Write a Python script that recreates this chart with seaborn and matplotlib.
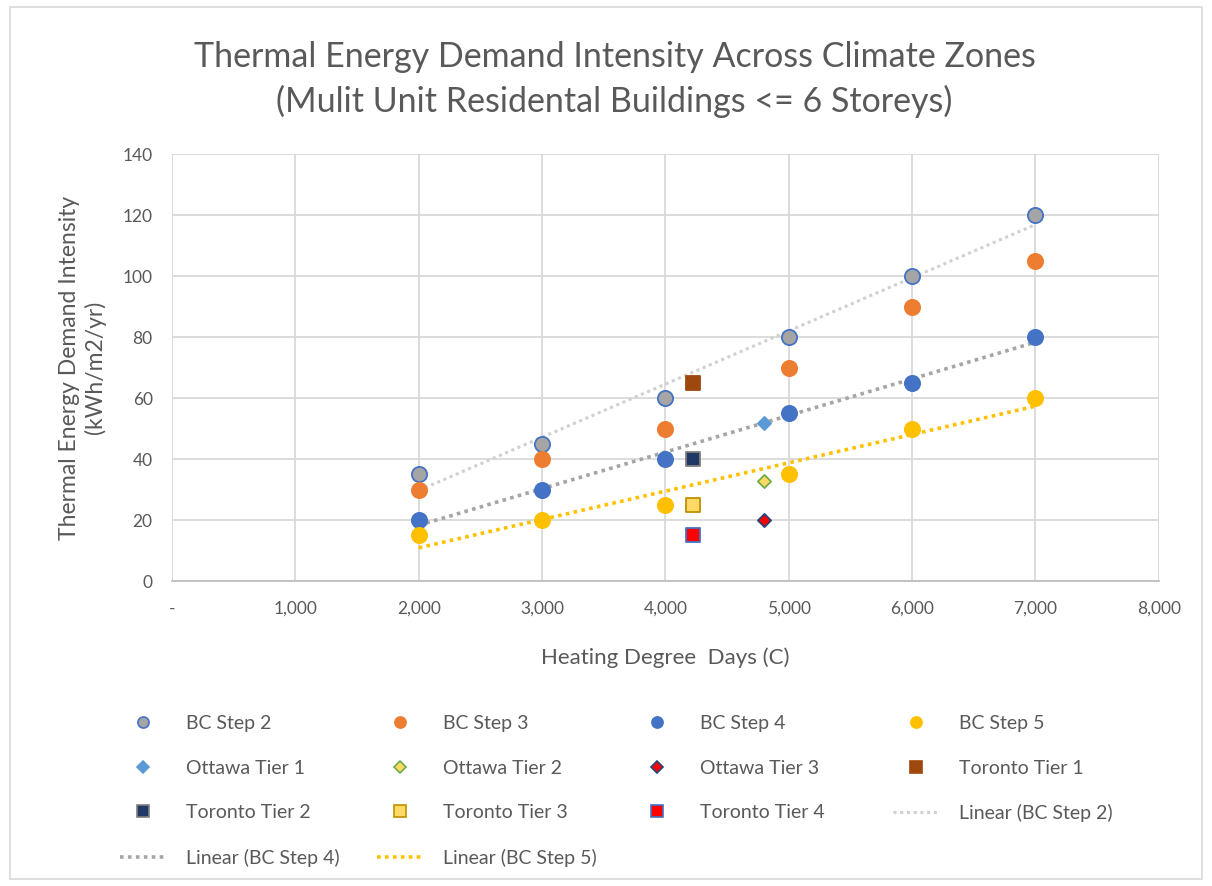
import matplotlib
matplotlib.use("Agg")
import matplotlib.pyplot as plt
from matplotlib.lines import Line2D
from matplotlib.patches import Rectangle
import matplotlib.ticker as mticker
import pandas as pd
import seaborn as sns

# Daten
hdd = [2000, 3000, 4000, 5000, 6000, 7000]
bc_step2 = [35, 45, 60, 80, 100, 120]
bc_step3 = [30, 40, 50, 70, 90, 105]
bc_step4 = [20, 30, 40, 55, 65, 80]
bc_step5 = [15, 20, 25, 35, 50, 60]

ottawa_hdd = 4800
ottawa_tier1 = [52]
ottawa_tier2 = [33]
ottawa_tier3 = [20]

toronto_hdd = 4220
toronto_tier1 = [65]
toronto_tier2 = [40]
toronto_tier3 = [25]
toronto_tier4 = [15]

GREY_TXT = "#595959"

sns.set_theme(style="white")
plt.rcParams["font.family"] = ["Lato", "DejaVu Sans"]

fig = plt.figure(figsize=(12.12, 8.86), dpi=100)
ax = fig.add_axes([0.142, 0.344, 0.814, 0.482])

# Serien: (Name, x, y, marker, Füllfarbe, Randfarbe, Größe)
series = [
    ("BC Step 2", hdd, bc_step2, "o", "#A5A5A5", "#4472C4", 120),
    ("BC Step 3", hdd, bc_step3, "o", "#ED7D31", "#ED7D31", 120),
    ("BC Step 4", hdd, bc_step4, "o", "#4472C4", "#4472C4", 120),
    ("BC Step 5", hdd, bc_step5, "o", "#FFC000", "#FFC000", 120),
    ("Ottawa Tier 1", [ottawa_hdd], ottawa_tier1, "D", "#5B9BD5", "#5B9BD5", 45),
    ("Ottawa Tier 2", [ottawa_hdd], ottawa_tier2, "D", "#FFD966", "#70AD47", 45),
    ("Ottawa Tier 3", [ottawa_hdd], ottawa_tier3, "D", "#FF0000", "#264478", 45),
    ("Toronto Tier 1", [toronto_hdd], toronto_tier1, "s", "#9E480E", "#9E480E", 100),
    ("Toronto Tier 2", [toronto_hdd], toronto_tier2, "s", "#203864", "#7F7F7F", 100),
    ("Toronto Tier 3", [toronto_hdd], toronto_tier3, "s", "#FFD966", "#BF9000", 100),
    ("Toronto Tier 4", [toronto_hdd], toronto_tier4, "s", "#FF0000", "#4472C4", 100),
]

# Trendlinien (linear)
trends = [
    ("Linear (BC Step 2)", bc_step2, "#D0D0D0", 2.2),
    ("Linear (BC Step 4)", bc_step4, "#A5A5A5", 2.6),
    ("Linear (BC Step 5)", bc_step5, "#FFC000", 2.6),
]
for name, vals, col, lw in trends:
    df_t = pd.DataFrame({"x": hdd, "y": vals})
    sns.regplot(data=df_t, x="x", y="y", ax=ax, scatter=False, ci=None,
                truncate=True, line_kws={"color": col, "lw": lw, "ls": (0, (1, 1.2)),
                                         "zorder": 2})

handles = {}
for name, xs, ys, mk, fc, ec, s in series:
    df_s = pd.DataFrame({"x": xs, "y": ys})
    sns.scatterplot(data=df_s, x="x", y="y", ax=ax, marker=mk, s=s, color=fc,
                    edgecolor=ec, linewidth=1.3, zorder=3)
    handles[name] = Line2D([], [], ls="", marker=mk, markersize=8 if mk != "D" else 6,
                           markerfacecolor=fc, markeredgecolor=ec, markeredgewidth=1.2)
for name, vals, col, lw in trends:
    handles[name] = Line2D([], [], color=col, lw=lw, ls=(0, (1, 1.2)))

ax.set_xlim(0, 8000)
ax.set_ylim(0, 140)
ax.xaxis.set_major_locator(mticker.MultipleLocator(1000))
ax.yaxis.set_major_locator(mticker.MultipleLocator(20))
ax.xaxis.set_major_formatter(mticker.FuncFormatter(lambda v, p: "-" if v == 0 else f"{int(v):,}"))
ax.grid(True, color="#D9D9D9", lw=1.3)
ax.set_axisbelow(True)
for sp in ["left", "top", "right"]:
    ax.spines[sp].set_visible(False)
ax.spines["bottom"].set_color("#BFBFBF")
ax.spines["bottom"].set_linewidth(1.3)
ax.tick_params(axis="both", colors=GREY_TXT, labelsize=12.5, length=0, pad=14)

ax.set_xlabel("Heating Degree  Days (C)", fontsize=16, color=GREY_TXT, labelpad=22)
ax.set_ylabel("Thermal Energy Demand Intensity\n(kWh/m2/yr)", fontsize=16.5,
              color=GREY_TXT, labelpad=12)

fig.text(0.507, 0.936, "Thermal Energy Demand Intensity Across Climate Zones",
         ha="center", va="center", fontsize=24.5, color=GREY_TXT)
fig.text(0.507, 0.885, "(Mulit Unit Residental Buildings <= 6 Storeys)",
         ha="center", va="center", fontsize=24.5, color=GREY_TXT)

# Legende: vier Spalten mit festem Abstand
columns = [
    (["BC Step 2", "Ottawa Tier 1", "Toronto Tier 2", "Linear (BC Step 4)"], 120),
    (["BC Step 3", "Ottawa Tier 2", "Toronto Tier 3", "Linear (BC Step 5)"], 377),
    (["BC Step 4", "Ottawa Tier 3", "Toronto Tier 4"], 634),
    (["BC Step 5", "Toronto Tier 1", "Linear (BC Step 2)"], 893),
]
for names, xpix in columns:
    leg = fig.legend([handles[k] for k in names], names, loc="upper left",
                     bbox_to_anchor=(xpix / 1212, 1 - 715 / 886), frameon=False,
                     fontsize=14, labelcolor=GREY_TXT, handlelength=2.4,
                     labelspacing=1.42, handletextpad=1.0, borderpad=0,
                     borderaxespad=0)

fig.patches.append(Rectangle((0.008, 0.008), 0.984, 0.984, transform=fig.transFigure,
                             fill=False, edgecolor="#D9D9D9", lw=1.2))

fig.savefig("out.png", dpi=100)
